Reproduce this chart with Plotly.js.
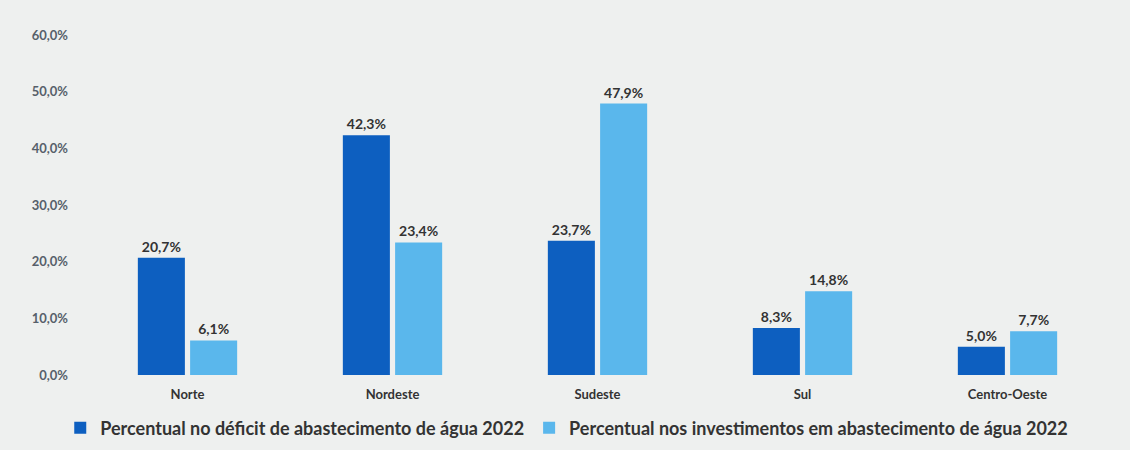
<!DOCTYPE html>
<html>
<head>
<meta charset="utf-8">
<script src="https://cdn.plot.ly/plotly-3.0.1.min.js"></script>
<style>html,body{margin:0;padding:0;background:#eef0ef;}#chart{width:1130px;height:450px;}</style>
</head>
<body>
<div id="chart"></div>
<script>
const categories = ["Norte", "Nordeste", "Sudeste", "Sul", "Centro-Oeste"];
const deficit = [20.7, 42.3, 23.7, 8.3, 5.0];
const investimentos = [6.1, 23.4, 47.9, 14.8, 7.7];
const seriesNames = ["Percentual no déficit de abastecimento de água 2022", "Percentual nos investimentos em abastecimento de água 2022"];
const yTickVals = [0, 10, 20, 30, 40, 50, 60];
const yTickText = ["0,0%", "10,0%", "20,0%", "30,0%", "40,0%", "50,0%", "60,0%"];

const fmt = v => v.toFixed(1).replace('.', ',') + '%';
const labelFont = {family: "Lato, 'Open Sans', sans-serif", size: 14, color: "#333", weight: 700};

const traces = [
  {type: 'bar', x: categories, y: deficit, name: seriesNames[0], marker: {color: '#0d5fc0'},
   text: deficit.map(fmt), textposition: 'outside', textfont: labelFont, cliponaxis: false},
  {type: 'bar', x: categories, y: investimentos, name: seriesNames[1], marker: {color: '#5ab7ec'},
   text: investimentos.map(fmt), textposition: 'outside', textfont: labelFont, cliponaxis: false}
];

const layout = {
  width: 1130, height: 450,
  paper_bgcolor: '#eef0ef', plot_bgcolor: '#eef0ef',
  margin: {l: 85, r: 20, t: 35, b: 75, autoexpand: false},
  barmode: 'group', bargap: 0.49, bargroupgap: 0.1,
  font: {family: "Lato, 'Open Sans', sans-serif", color: '#444'},
  xaxis: {showgrid: false, zeroline: false, showline: false, ticks: '',
          tickfont: {size: 13, color: '#333', weight: 700}, ticklabelstandoff: 10},
  yaxis: {range: [0, 60], tickvals: yTickVals, ticktext: yTickText, showgrid: false, zeroline: false,
          showline: false, ticks: '', tickfont: {size: 13, color: '#56606a', weight: 700}, ticklabelstandoff: 16},
  showlegend: true,
  legend: {orientation: 'h', x: 0.47, xanchor: 'center', y: -0.156, yanchor: 'middle',
           font: {size: 18, color: '#333', weight: 700}, bgcolor: 'rgba(0,0,0,0)', itemwidth: 30, tracegroupgap: 0}
};

Plotly.newPlot('chart', traces, layout, {displayModeBar: false, staticPlot: true});
</script>
</body>
</html>
